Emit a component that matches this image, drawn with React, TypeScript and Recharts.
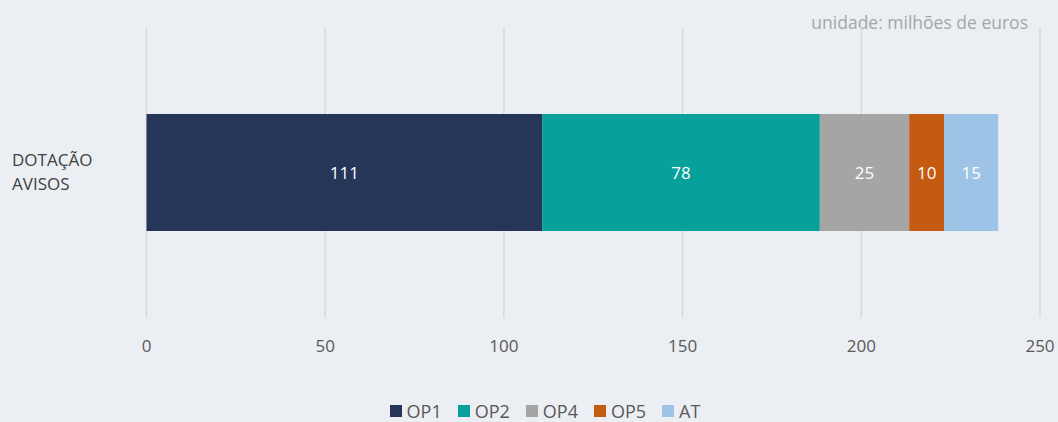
import { BarChart, Bar, XAxis, YAxis, CartesianGrid, LabelList } from "recharts"

const categories = ["DOTAÇÃO AVISOS"]
const op1 = [110.7]
const op2 = [77.7]
const op4 = [25.0]
const op5 = [9.8]
const at = [15.1]
const xTicks = [0, 50, 100, 150, 200, 250]

const seriesNames = ["OP1", "OP2", "OP4", "OP5", "AT"]
const seriesColors = ["#263659", "#08A09A", "#A5A5A5", "#C55A11", "#9DC3E6"]

const data = categories.map((name, i) => ({
  name,
  OP1: op1[i],
  OP2: op2[i],
  OP4: op4[i],
  OP5: op5[i],
  AT: at[i],
}))

const FONT = "'Open Sans', 'Noto Sans', sans-serif"

const CategoryTick = ({ y, payload }: any) => {
  const words = String(payload.value).split(" ")
  return (
    <text x={12} y={y} fill="#404040" fontSize={17} fontFamily={FONT} textAnchor="start">
      {words.map((w, i) => (
        <tspan key={i} x={12} dy={i === 0 ? -7 : 24}>{w}</tspan>
      ))}
    </text>
  )
}

const ValueTick = ({ x, y, payload }: any) => (
  <text x={x} y={y} dy={25} fill="#595959" fontSize={17} fontFamily={FONT} textAnchor="middle" dominantBaseline="central">
    {payload.value}
  </text>
)

const Legend = () => (
  <div style={{ position: "absolute", top: 401, left: 0, width: 1058, display: "flex", justifyContent: "center", fontFamily: FONT, fontSize: 18, color: "#595959", lineHeight: "20px", paddingLeft: 32, boxSizing: "border-box" }}>
    {seriesNames.map((s, i) => (
      <div key={s} style={{ display: "flex", alignItems: "center", marginRight: i < seriesNames.length - 1 ? 16 : 0 }}>
        <span style={{ width: 12, height: 12, background: seriesColors[i], marginRight: 5, display: "inline-block" }} />
        <span>{s}</span>
      </div>
    ))}
  </div>
)

export default function App() {
  return (
    <div style={{ position: "absolute", left: 0, top: 0, width: 1058, height: 422, background: "#EBEEF2", overflow: "hidden" }}>
      <div style={{ position: "absolute", top: 10, right: 30, fontFamily: FONT, fontSize: 17.5, color: "#A6A6A6" }}>
        unidade: milhões de euros
      </div>
      <BarChart
        width={1058}
        height={422}
        data={data}
        layout="vertical"
        margin={{ top: 27, right: 18, left: 0, bottom: 74 }}
      >
        <CartesianGrid horizontal={false} stroke="#D9D9D9" strokeWidth={1.5} />
        <XAxis
          type="number"
          domain={[0, 250]}
          ticks={xTicks}
          axisLine={false}
          tickLine={false}
          tickSize={0}
          height={30}
          tick={<ValueTick />}
          interval={0}
        />
        <YAxis
          type="category"
          dataKey="name"
          width={146.5}
          axisLine={false}
          tickLine={false}
          tick={<CategoryTick />}
        />
        {seriesNames.map((s, i) => (
          <Bar key={s} dataKey={s} stackId="a" fill={seriesColors[i]} barSize={117} isAnimationActive={false}>
            <LabelList
              dataKey={s}
              position="center"
              fill="#FFFFFF"
              fontSize={17}
              fontFamily={FONT}
              formatter={(v: any) => Math.round(Number(v))}
            />
          </Bar>
        ))}
      </BarChart>
      <Legend />
    </div>
  )
}
